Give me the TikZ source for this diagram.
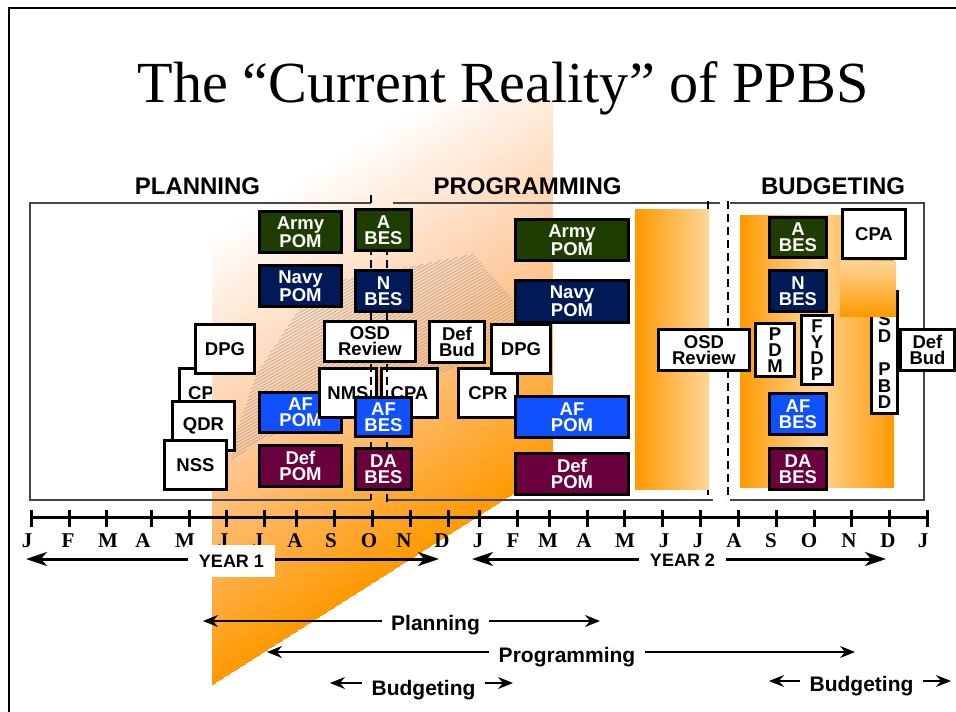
\documentclass[tikz,border=0pt]{standalone}
\usepackage{fontspec}
\setmainfont{Liberation Sans}
\newfontfamily\serifb{Liberation Serif}
\usetikzlibrary{arrows.meta,patterns.meta,calc}
\definecolor{orng}{RGB}{255,153,0}
\definecolor{peach}{RGB}{254,202,158}
\definecolor{lightorng}{RGB}{255,214,153}
\definecolor{armyc}{RGB}{31,61,0}
\definecolor{navyc}{RGB}{0,26,87}
\definecolor{afc}{RGB}{15,80,255}
\definecolor{defc}{RGB}{107,0,63}
\definecolor{framec}{RGB}{70,70,70}
\definecolor{hatchc}{RGB}{178,162,152}
\tikzset{
  boxbase/.style={draw=black,line width=3pt,inner sep=0pt,align=center,font=\bfseries\fontsize{18.5}{16}\selectfont},
  whitebox/.style={boxbase,fill=white,text=black},
  armybox/.style={boxbase,fill=armyc,text=white},
  navybox/.style={boxbase,fill=navyc,text=white},
  afbox/.style={boxbase,fill=afc,text=white},
  defbox/.style={boxbase,fill=defc,text=white},
  header/.style={font=\bfseries\fontsize{24}{26}\selectfont,inner sep=0pt},
  month/.style={font=\serifb\bfseries\fontsize{21}{24}\selectfont,inner sep=0pt},
  yearlabel/.style={fill=white,inner sep=0pt,font=\bfseries\fontsize{18}{20}\selectfont},
  phaselabel/.style={inner sep=0pt,anchor=base,font=\bfseries\fontsize{21}{24}\selectfont},
  bigarrow/.style={line width=3pt,-{Stealth[length=21pt,width=14pt,inset=6pt]}},
  thinarrow/.style={line width=#1,-{Stealth[length=15pt,width=12pt,inset=5pt]}},
  thinarrow/.default=1.3pt,
  framel/.style={draw=framec,line width=1.5pt},
  dashl/.style={draw=black,line width=2.5pt,dash pattern=on 8pt off 5pt},
}
\newcommand{\bx}[7]{%
  \pgfmathsetmacro\bxw{#5-#3-3}\pgfmathsetmacro\bxh{#6-#4-3}%
  \pgfmathsetmacro\bxcx{(#3+#5)/2}\pgfmathsetmacro\bxcy{(#4+#6)/2}%
  \node[#2,minimum width=\bxw pt,minimum height=\bxh pt] (#1) at (\bxcx,\bxcy) {#7};}
% one band of the wedge gradient: everything from the slant edge out to distance #1
\newcommand{\wedgeband}[2]{%
  \fill[#2] ($(212,685)+(-1000*0.8446,1000*0.5355)$) -- ($(212,685)+(1000*0.8446,-1000*0.5355)$)
     -- ($(212,685)+(1000*0.8446,-1000*0.5355)+#1*(-0.5355,-0.8446)$)
     -- ($(212,685)+(-1000*0.8446,1000*0.5355)+#1*(-0.5355,-0.8446)$) -- cycle;}
\begin{document}
\begin{tikzpicture}[x=1pt,y=-1pt]
\useasboundingbox (0,0) rectangle (956,712);
\fill[white] (0,0) rectangle (956,712);
% box that the wedge covers in part
\bx{cp}{whitebox}{178}{367}{240}{419}{\hspace*{-16pt}CP}
% big wedge
\begin{scope}
  \clip (212,100) -- (552,100) -- (552,469) -- (212,685) -- cycle;
  \foreach \d in {380,378,...,190}{
    \pgfmathsetmacro\p{(\d-190)/190*100}
    \wedgeband{\d}{white!\p!peach}
  }
  \foreach \d in {188,186,...,2}{
    \pgfmathsetmacro\p{\d/190*100}
    \wedgeband{\d}{peach!\p!orng}
  }
\end{scope}
% hatching
\fill[pattern={Lines[angle=30,distance=2.8pt,line width=.6pt]},pattern color=hatchc]
  (230,463) -- (258,441) -- (457,367) -- (513,330) -- (513,300) -- (473,254) -- (343,280) -- (300,308) -- (257,373) -- (237,430) -- cycle;
% outer frame
\draw[line width=2pt,black] (8.5,712) -- (8.5,8) -- (956,8);
% title
\node[inner sep=0pt,anchor=base,font=\serifb\fontsize{58.2}{60}\selectfont] (title) at (503,102) {The “Current Reality” of PPBS};
% headers
\node[header] (hplan) at (197.5,186) {PLANNING};
\node[header] (hprog) at (527.5,186) {PROGRAMMING};
\node[header] (hbud) at (833,186) {BUDGETING};
% frame lines
\draw[framel] (371,203) -- (30,203) -- (30,500) -- (371,500);
\draw[framel] (393,203) -- (720,203);
\draw[framel] (387,500) -- (713,500);
\draw[framel] (730,203) -- (924,203) -- (924,500) -- (730,500);
% boxes under the dashed lines
\bx{af1}{afbox}{258}{391}{343}{434}{AF\\POM}
\bx{nms}{whitebox}{318}{367}{378}{419}{NMS}
\bx{cpa1}{whitebox}{380}{367}{439}{419}{CPA}
% dashed year lines
\coordinate (da1) at (371,195); \coordinate (da2) at (371,500);
\coordinate (db1) at (387,208); \coordinate (db2) at (387,504);
\coordinate (dc1) at (708,201); \coordinate (dc2) at (708,500);
\coordinate (dd1) at (728,201); \coordinate (dd2) at (728,500);
\draw[dashl] (da1) -- (da2);
\draw[dashl] (db1) -- (db2);
\draw[dashl] (dc1) -- (dc2);
\draw[dashl] (dd1) -- (dd2);
% orange panels
\shade[left color=orng,right color=lightorng] (635,209) rectangle (709,489);
\fill[orng] (740,215) rectangle (894,487);
\shade[left color=orng,right color=lightorng] (740,215) rectangle (817,487);
\shade[left color=lightorng,right color=orng] (817,215) rectangle (894,487);
% left group
\bx{army1}{armybox}{258}{210}{343}{254}{Army\\POM}
\bx{navy1}{navybox}{258}{264}{343}{308}{Navy\\POM}
\bx{def1}{defbox}{258}{444}{343}{488}{Def\\POM}
\bx{dpg1}{whitebox}{194}{323}{256}{375}{DPG}
\bx{qdr}{whitebox}{171}{400}{236}{452}{QDR}
\bx{nss}{whitebox}{163}{439}{228}{491}{NSS}
\bx{abes1}{armybox}{354}{208}{413}{252}{A\\BES}
\bx{nbes1}{navybox}{354}{269}{413}{313}{N\\BES}
\bx{osd1}{whitebox}{323}{320}{417}{363}{OSD\\Review}
\bx{afbes1}{afbox}{354}{396}{413}{438}{AF\\BES}
\bx{dabes1}{defbox}{354}{447}{413}{491}{DA\\BES}
% middle group
\bx{defbud1}{whitebox}{428}{320}{486}{364}{Def\\Bud}
\bx{cpr}{whitebox}{457}{367}{519}{419}{CPR}
\bx{dpg2}{whitebox}{490}{323}{552}{375}{DPG}
\bx{army2}{armybox}{514}{218}{630}{262}{Army\\POM}
\bx{navy2}{navybox}{514}{279}{630}{324}{Navy\\POM}
\bx{af2}{afbox}{514}{395}{630}{439}{AF\\POM}
\bx{def2}{defbox}{514}{452}{630}{496}{Def\\POM}
% right group
\bx{abes2}{armybox}{768}{216}{828}{259}{A\\BES}
\bx{nbes2}{navybox}{768}{269}{828}{313}{N\\BES}
\bx{afbes2}{afbox}{768}{392}{828}{436}{AF\\BES}
\bx{dabes2}{defbox}{768}{447}{828}{491}{DA\\BES}
\bx{osd2}{whitebox}{657}{328}{751}{372}{OSD\\Review}
\bx{pdm}{whitebox}{754}{322}{796}{378}{P\\D\\M}
\bx{fydp}{whitebox}{800}{314}{834}{386}{F\\Y\\D\\P}
\bx{osdpbd}{whitebox,font=\bfseries\fontsize{18.5}{16.6}\selectfont}{870}{290}{899}{415}{O\\S\\D\\~\\P\\B\\D}
\bx{defbud2}{whitebox}{899}{328}{956}{372}{Def\\Bud}
\shade[top color=lightorng,bottom color=orng] (840,261) rectangle (896,316);
\bx{cpa2}{whitebox}{841}{208}{907}{260}{CPA}
% timeline
\coordinate (ta) at (31,517); \coordinate (tb) at (927,517);
\draw[line width=3pt] (ta) -- (tb);
\foreach \tx in {31,69,106,151,189,226,264,296,334,372,410,448,479,517,549,587,624,662,700,738,776,814,851,889,927}
  \draw[line width=3pt] (\tx,510) -- (\tx,527);
\foreach \mx/\ml in {27/J,68/F,108/M,143/A,185/M,223/J,258/J,295/A,331/S,369/O,404/N,442/D,478/J,513/F,548/M,584/A,625/M,664/J,698/J,734/A,771/S,809/O,849/N,888/D,923/J}
  \node[month] at (\mx,541) {\ml};
% year arrows
\node[yearlabel,minimum width=87pt,minimum height=32pt] (y1) at (231.5,561) {YEAR 1};
\node[yearlabel,minimum width=87pt,minimum height=24pt] (y2) at (682.5,560) {YEAR 2};
\coordinate (y1l) at (26,559); \coordinate (y1r) at (439,559);
\coordinate (y2l) at (472,559); \coordinate (y2r) at (886,559);
\draw[bigarrow] (y1.west |- y1l) -- (y1l);
\draw[bigarrow] (y1.east |- y1r) -- (y1r);
\draw[bigarrow] (y2.west |- y2l) -- (y2l);
\draw[bigarrow] (y2.east |- y2r) -- (y2r);
% phase arrows
\node[phaselabel,minimum width=107pt] (pl) at (435.5,630) {Planning};
\node[phaselabel,minimum width=156pt] (pr) at (567,662.7) {Programming};
\node[phaselabel,minimum width=123pt] (bu1) at (423.5,695) {Budgeting};
\node[phaselabel,minimum width=123pt] (bu2) at (861.5,691) {Budgeting};
\coordinate (pll) at (203,621); \coordinate (plr) at (600,621);
\coordinate (prl) at (267,652); \coordinate (prr) at (855,652);
\coordinate (b1l) at (330,683); \coordinate (b1r) at (513,683);
\coordinate (b2l) at (769,681); \coordinate (b2r) at (951,681);
\draw[thinarrow=1.7pt] (pl.west |- pll) -- (pll);
\draw[thinarrow=1.7pt] (pl.east |- plr) -- (plr);
\draw[thinarrow] (pr.west |- prl) -- (prl);
\draw[thinarrow] (pr.east |- prr) -- (prr);
\draw[thinarrow] (bu1.west |- b1l) -- (b1l);
\draw[thinarrow] (bu1.east |- b1r) -- (b1r);
\draw[thinarrow] (bu2.west |- b2l) -- (b2l);
\draw[thinarrow] (bu2.east |- b2r) -- (b2r);
\end{tikzpicture}
\end{document}
